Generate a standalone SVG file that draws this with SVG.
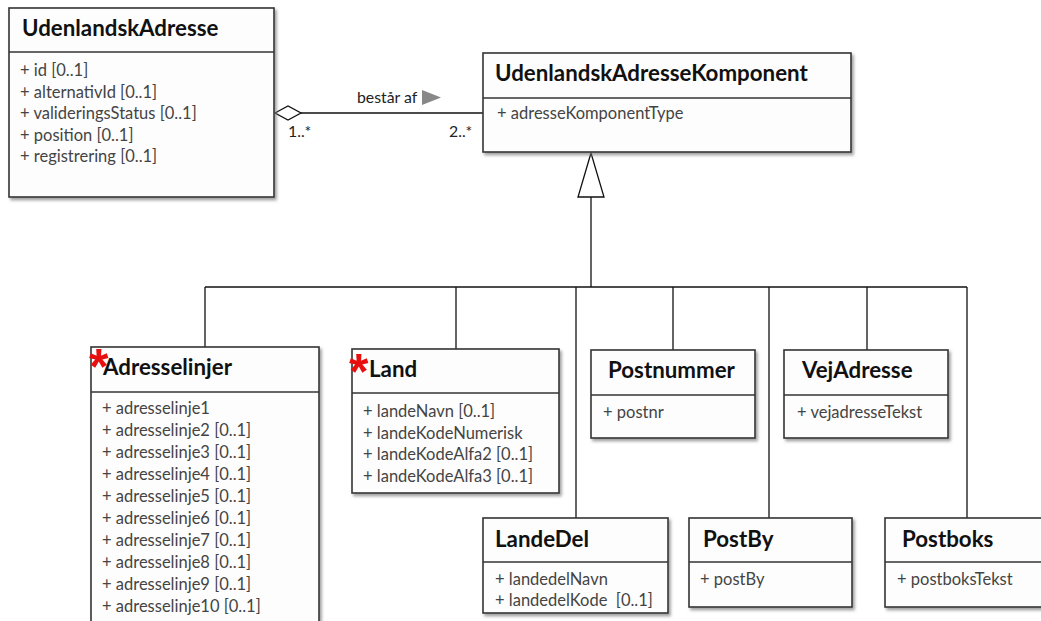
<svg xmlns="http://www.w3.org/2000/svg" width="1041" height="621" viewBox="0 0 1041 621">
<defs>
<filter id="sh" x="-5%" y="-5%" width="115%" height="115%">
<feDropShadow dx="2" dy="2.5" stdDeviation="1.5" flood-color="#777" flood-opacity="0.7"/>
</filter>
</defs>
<style>
.box{fill:#fdfdfd;stroke:#333;stroke-width:1.6;filter:url(#sh)}
.sep{stroke:#333;stroke-width:1.3}
.title{font-family:Lato,"Liberation Sans",sans-serif;font-weight:bold;font-size:22.3px;fill:#111}
.attr{font-family:Lato,"Liberation Sans",sans-serif;font-size:16.5px;fill:#444;white-space:pre}
.lbl{font-family:Lato,"Liberation Sans",sans-serif;font-size:15.8px;fill:#222}
.ast{font-family:"Liberation Sans",sans-serif;font-weight:bold;font-size:50px;fill:#e8100f}
.conn{stroke:#111;stroke-width:1.3;fill:none}
</style>
<rect width="1041" height="621" fill="#ffffff"/>

<g id="connectors">
<line class="conn" x1="301" y1="113" x2="483" y2="113"/>
<polygon points="275,113 288,106 301,113 288,120" fill="#fff" stroke="#111" stroke-width="1.3"/>
<text class="lbl" x="357" y="103">består af</text>
<polygon points="422,90 441,97.5 422,105" fill="#888"/>
<text class="lbl" x="288" y="137">1..*</text>
<text class="lbl" x="449" y="137">2..*</text>
<line class="conn" x1="591" y1="197" x2="591" y2="287"/>
<polygon points="591,153 578,197 604,197" fill="#fff" stroke="#111" stroke-width="1.3"/>
<line class="conn" x1="205" y1="287" x2="967" y2="287"/>
<line class="conn" x1="205" y1="287" x2="205" y2="347"/>
<line class="conn" x1="456" y1="287" x2="456" y2="349"/>
<line class="conn" x1="576" y1="287" x2="576" y2="518"/>
<line class="conn" x1="673" y1="287" x2="673" y2="350"/>
<line class="conn" x1="769" y1="287" x2="769" y2="518"/>
<line class="conn" x1="867" y1="287" x2="867" y2="350"/>
<line class="conn" x1="967" y1="287" x2="967" y2="518"/>
</g>

<g id="UdenlandskAdresse">
<rect class="box" x="9" y="8" width="265" height="189"/>
<line class="sep" x1="9" y1="52" x2="274" y2="52"/>
<text class="title" x="22" y="36">UdenlandskAdresse</text>
<text class="attr" x="20" y="76">+ id [0..1]</text>
<text class="attr" x="20" y="97.5">+ alternativId [0..1]</text>
<text class="attr" x="20" y="119">+ valideringsStatus [0..1]</text>
<text class="attr" x="20" y="140.5">+ position [0..1]</text>
<text class="attr" x="20" y="162">+ registrering [0..1]</text>
</g>

<g id="UdenlandskAdresseKomponent">
<rect class="box" x="483" y="53" width="368" height="99"/>
<line class="sep" x1="483" y1="98" x2="851" y2="98"/>
<text class="title" x="495" y="81">UdenlandskAdresseKomponent</text>
<text class="attr" x="497" y="119">+ adresseKomponentType</text>
</g>

<g id="Adresselinjer">
<rect class="box" x="91" y="347" width="228" height="300"/>
<line class="sep" x1="91" y1="392" x2="319" y2="392"/>
<text class="title" x="103" y="375">Adresselinjer</text>
<text class="ast" x="89" y="384">*</text>
<text class="attr" x="102" y="414">+ adresselinje1</text>
<text class="attr" x="102" y="436">+ adresselinje2 [0..1]</text>
<text class="attr" x="102" y="458">+ adresselinje3 [0..1]</text>
<text class="attr" x="102" y="480">+ adresselinje4 [0..1]</text>
<text class="attr" x="102" y="502">+ adresselinje5 [0..1]</text>
<text class="attr" x="102" y="524">+ adresselinje6 [0..1]</text>
<text class="attr" x="102" y="546">+ adresselinje7 [0..1]</text>
<text class="attr" x="102" y="568">+ adresselinje8 [0..1]</text>
<text class="attr" x="102" y="590">+ adresselinje9 [0..1]</text>
<text class="attr" x="102" y="612">+ adresselinje10 [0..1]</text>
</g>

<g id="Land">
<rect class="box" x="352" y="349" width="207" height="144"/>
<line class="sep" x1="352" y1="393" x2="559" y2="393"/>
<text class="title" x="369" y="377">Land</text>
<text class="ast" x="349" y="389">*</text>
<text class="attr" x="363" y="417">+ landeNavn [0..1]</text>
<text class="attr" x="363" y="438.5">+ landeKodeNumerisk</text>
<text class="attr" x="363" y="460">+ landeKodeAlfa2 [0..1]</text>
<text class="attr" x="363" y="481.5">+ landeKodeAlfa3 [0..1]</text>
</g>

<g id="Postnummer">
<rect class="box" x="591" y="350" width="164" height="88"/>
<line class="sep" x1="591" y1="395" x2="755" y2="395"/>
<text class="title" x="608" y="378">Postnummer</text>
<text class="attr" x="603" y="418">+ postnr</text>
</g>

<g id="VejAdresse">
<rect class="box" x="784" y="350" width="164" height="88"/>
<line class="sep" x1="784" y1="395" x2="948" y2="395"/>
<text class="title" x="802" y="378">VejAdresse</text>
<text class="attr" x="797" y="418">+ vejadresseTekst</text>
</g>

<g id="LandeDel">
<rect class="box" x="483" y="518" width="185" height="95"/>
<line class="sep" x1="483" y1="562" x2="668" y2="562"/>
<text class="title" x="495" y="547">LandeDel</text>
<text class="attr" x="495" y="585">+ landedelNavn</text>
<text class="attr" x="495" y="606">+ landedelKode  [0..1]</text>
</g>

<g id="PostBy">
<rect class="box" x="689" y="518" width="163" height="89"/>
<line class="sep" x1="689" y1="562" x2="852" y2="562"/>
<text class="title" x="703" y="547">PostBy</text>
<text class="attr" x="700" y="585">+ postBy</text>
</g>

<g id="Postboks">
<rect class="box" x="885" y="518" width="170" height="89"/>
<line class="sep" x1="885" y1="562" x2="1055" y2="562"/>
<text class="title" x="902" y="547">Postboks</text>
<text class="attr" x="897" y="585">+ postboksTekst</text>
</g>
</svg>
